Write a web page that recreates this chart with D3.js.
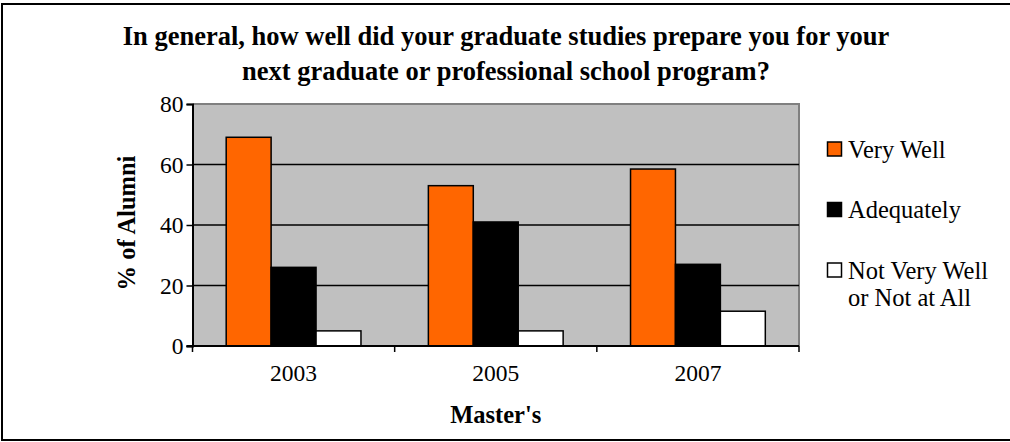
<!DOCTYPE html>
<html>
<head>
<meta charset="utf-8">
<script src="https://cdn.jsdelivr.net/npm/d3@7"></script>
<style>
  html, body { margin: 0; padding: 0; background: #fff; }
  svg { display: block; }
  svg text { font-family: "Liberation Serif", "Times New Roman", "DejaVu Serif", serif; fill: #000; }
</style>
</head>
<body>
<div id="chart"></div>
<script>
// data
var years = ["2003", "2005", "2007"];
var seriesNames = ["Very Well", "Adequately", "Not Very Well|or Not at All"];
var veryWell = [69, 53, 58.5];
var adequately = [26, 41, 27];
var notVeryWell = [5, 5, 11.5];
var yTicks = [0, 20, 40, 60, 80];
var colors = ["#ff6600", "#000000", "#ffffff"];

var width = 1010, height = 442;
var plot = { left: 192.5, right: 799, top: 104, bottom: 346 };

var svg = d3.select("#chart").append("svg")
  .attr("width", width).attr("height", height);

// outer frame
svg.append("rect")
  .attr("x", 2).attr("y", 4).attr("width", 1012).attr("height", 436)
  .attr("fill", "#fff").attr("stroke", "#000").attr("stroke-width", 2);

var xScale = d3.scaleBand().domain(years).range([plot.left, plot.right]);
var barW = xScale.bandwidth() / 4.5;
var xInner = d3.scaleBand().domain(d3.range(3))
  .range([barW * 0.75, xScale.bandwidth() - barW * 0.75]);
var yScale = d3.scaleLinear().domain([0, 80]).range([plot.bottom, plot.top]);

// plot area
svg.append("rect")
  .attr("x", plot.left).attr("y", plot.top)
  .attr("width", plot.right - plot.left).attr("height", plot.bottom - plot.top)
  .attr("fill", "#c0c0c0");
svg.append("path")
  .attr("d", "M" + plot.left + "," + plot.top + "H" + plot.right + "V" + plot.bottom)
  .attr("fill", "none").attr("stroke", "#808080").attr("stroke-width", 2);

// gridlines
svg.append("g").selectAll("line")
  .data(yTicks.filter(function (d) { return d > 0 && d < 80; }))
  .enter().append("line")
  .attr("x1", plot.left).attr("x2", plot.right)
  .attr("y1", function (d) { return yScale(d); })
  .attr("y2", function (d) { return yScale(d); })
  .attr("stroke", "#000").attr("stroke-width", 1.5);

// bars
var series = [veryWell, adequately, notVeryWell];
var barG = svg.append("g");
series.forEach(function (vals, si) {
  barG.selectAll("rect.s" + si).data(vals).enter().append("rect")
    .attr("class", "s" + si)
    .attr("x", function (d, i) { return xScale(years[i]) + xInner(si); })
    .attr("y", function (d) { return yScale(d); })
    .attr("width", xInner.bandwidth())
    .attr("height", function (d) { return yScale(0) - yScale(d); })
    .attr("fill", colors[si]).attr("stroke", "#000").attr("stroke-width", 1.5);
});

// y axis
var yAxis = d3.axisLeft(yScale).tickValues(yTicks).tickSize(6).tickPadding(3);
var yAxisG = svg.append("g").attr("transform", "translate(" + plot.left + ",0)").call(yAxis);
yAxisG.select(".domain").attr("stroke-width", 2);
yAxisG.selectAll(".tick line").attr("stroke-width", 1.5);
yAxisG.selectAll("text").style("font-size", "23.5px");

// x axis
var bounds = years.map(function (y) { return xScale(y); }).concat([plot.right]);
var xAxisG = svg.append("g");
xAxisG.append("line")
  .attr("x1", plot.left - 6).attr("x2", plot.right)
  .attr("y1", plot.bottom).attr("y2", plot.bottom)
  .attr("stroke", "#000").attr("stroke-width", 2);
xAxisG.selectAll("line.tk").data(bounds).enter().append("line")
  .attr("class", "tk")
  .attr("x1", function (d) { return d; }).attr("x2", function (d) { return d; })
  .attr("y1", plot.bottom).attr("y2", plot.bottom + 6)
  .attr("stroke", "#000").attr("stroke-width", 1.5);
xAxisG.selectAll("text").data(years).enter().append("text")
  .attr("x", function (d) { return xScale(d) + xScale.bandwidth() / 2; })
  .attr("y", 380.5)
  .attr("text-anchor", "middle").style("font-size", "23.5px")
  .text(function (d) { return d; });

// titles
var title = ["In general, how well did your graduate studies prepare you for your",
  "next graduate or professional school program?"];
svg.append("g").selectAll("text").data(title).enter().append("text")
  .attr("x", 506).attr("y", function (d, i) { return 45 + i * 35; })
  .attr("text-anchor", "middle").style("font-size", "26.5px").style("font-weight", "bold")
  .text(function (d) { return d; });

svg.append("text")
  .attr("x", (plot.left + plot.right) / 2).attr("y", 423)
  .attr("text-anchor", "middle").style("font-size", "24.5px").style("font-weight", "bold")
  .text("Master's");

svg.append("text")
  .attr("transform", "translate(135,223) rotate(-90)")
  .attr("text-anchor", "middle").style("font-size", "24.5px").style("font-weight", "bold")
  .text("% of Alumni");

// legend
var legendY = [142, 202.5, 263];
var legend = svg.append("g");
seriesNames.forEach(function (name, i) {
  legend.append("rect")
    .attr("x", 827.5).attr("y", legendY[i]).attr("width", 14).attr("height", 14)
    .attr("fill", colors[i]).attr("stroke", "#000").attr("stroke-width", 1.5);
  var t = legend.append("text").attr("x", 848).attr("y", legendY[i] + 15.5).style("font-size", "24.5px");
  name.split("|").forEach(function (line, j) {
    t.append("tspan").attr("x", 848).attr("dy", j === 0 ? 0 : 27).text(line);
  });
});
</script>
</body>
</html>
